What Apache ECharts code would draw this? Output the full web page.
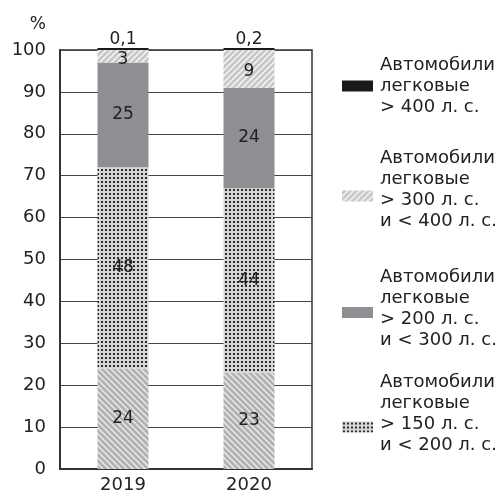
<!DOCTYPE html>
<html>
<head>
<meta charset="utf-8">
<script src="https://cdn.jsdelivr.net/npm/echarts@6/dist/echarts.min.js"></script>
<style>html,body{margin:0;padding:0;background:#fff}#c{width:499px;height:496px}</style>
</head>
<body>
<div id="c"></div>
<script>
var categories = ['2019', '2020'];
var seriesNames = [
  'Автомобили\nлегковые\n< 150 л. с.',
  'Автомобили\nлегковые\n> 150 л. с.\nи < 200 л. с.',
  'Автомобили\nлегковые\n> 200 л. с.\nи < 300 л. с.',
  'Автомобили\nлегковые\n> 300 л. с.\nи < 400 л. с.',
  'Автомобили\nлегковые\n> 400 л. с.'
];
var below150 = [24, 23];
var from150to200 = [48, 44];
var from200to300 = [25, 24];
var from300to400 = [3, 9];
var above400 = [0.1, 0.2];
var yTicks = [0, 10, 20, 30, 40, 50, 60, 70, 80, 90, 100];

var FONT = 'DejaVu Sans';

function hatch(bg, fg, dir, s, lw) {
  var c = document.createElement('canvas');
  c.width = s; c.height = s;
  var g = c.getContext('2d');
  g.fillStyle = bg; g.fillRect(0, 0, s, s);
  g.strokeStyle = fg; g.lineWidth = lw;
  g.beginPath();
  if (dir === '/') {
    g.moveTo(-1, 1); g.lineTo(1, -1);
    g.moveTo(0, s); g.lineTo(s, 0);
    g.moveTo(s - 1, s + 1); g.lineTo(s + 1, s - 1);
  } else {
    g.moveTo(-1, s - 1); g.lineTo(1, s + 1);
    g.moveTo(0, 0); g.lineTo(s, s);
    g.moveTo(s - 1, -1); g.lineTo(s + 1, 1);
  }
  g.stroke();
  return { image: c, repeat: 'repeat' };
}
function dots(bg, fg, s, d) {
  var c = document.createElement('canvas');
  c.width = s; c.height = s;
  var g = c.getContext('2d');
  g.fillStyle = bg; g.fillRect(0, 0, s, s);
  g.fillStyle = fg; g.fillRect(1, 1, d, d);
  return { image: c, repeat: 'repeat' };
}

var fills = [
  hatch('#b0b0b0', '#e4e4e4', '\\', 6, 1.6),
  dots('#d6d6d6', '#2a2a2a', 4, 2),
  '#8e8f92',
  hatch('#c6c6c6', '#f2f2f2', '/', 6, 1.6),
  '#1a1a1a'
];
var values = [below150, from150to200, from200to300, from300to400, above400];

function fmt(v) { return String(v).replace('.', ','); }

var series = values.map(function (arr, i) {
  var s = {
    name: seriesNames[i],
    type: 'bar',
    stack: 'total',
    barWidth: 51,
    data: arr,
    itemStyle: { color: fills[i] },
    label: {
      show: true,
      position: 'inside',
      color: '#222',
      fontFamily: FONT,
      fontSize: 17,
      formatter: function (p) { return fmt(p.value); }
    },
    emphasis: { disabled: true }
  };
  if (i === 3) {
    s.label.offset = [0, 3];
  }
  if (i === 4) {
    s.barMinHeight = 2;
    s.clip = false;
    s.label.position = 'top';
    s.label.distance = 0;
  }
  return s;
});

var spacers = { 4: 0, 3: 13, 2: 8, 1: 27 };
var tops = { 4: 51, 3: 144, 2: 263, 1: 368 };
var legends = [4, 3, 2, 1].map(function (i) {
  return {
    data: [seriesNames[i]],
    left: 337,
    top: tops[i],
    orient: 'vertical',
    itemWidth: 31,
    itemHeight: 11,
    icon: 'rect',
    selectedMode: false,
    itemStyle: { borderWidth: 0 },
    textStyle: {
      padding: [0, 0, 0, 2],
      rich: {
        t: { fontFamily: FONT, fontSize: 18, lineHeight: 21, color: '#222' },
        sp13: { fontSize: 1, lineHeight: 13 },
        sp8: { fontSize: 1, lineHeight: 8 },
        sp27: { fontSize: 1, lineHeight: 27 }
      }
    },
    formatter: function (name) {
      var r = '{t|' + name + '}';
      if (spacers[i]) r += '\n{sp' + spacers[i] + '| }';
      return r;
    }
  };
});

var chart = echarts.init(document.getElementById('c'), null, { renderer: 'canvas' });
chart.setOption({
  animation: false,
  backgroundColor: '#fff',
  textStyle: { fontFamily: FONT },
  grid: {
    left: 60, right: 187, top: 50, bottom: 27,
    show: true, borderColor: '#333', borderWidth: 1.5, backgroundColor: 'transparent'
  },
  legend: legends,
  xAxis: {
    type: 'category',
    data: categories,
    axisLine: { show: true, lineStyle: { color: '#333', width: 2 } },
    axisTick: { show: false },
    axisLabel: { color: '#222', fontSize: 18, fontFamily: FONT, margin: 7 }
  },
  yAxis: {
    type: 'value',
    min: yTicks[0],
    max: yTicks[yTicks.length - 1],
    interval: yTicks[1] - yTicks[0],
    name: '%',
    nameLocation: 'end',
    nameGap: 17,
    nameTextStyle: { color: '#222', fontSize: 17, fontFamily: FONT, align: 'right', padding: [0, 14, 0, 0] },
    axisLine: { show: true, lineStyle: { color: '#333', width: 2 } },
    axisTick: { show: false },
    splitLine: { show: true, lineStyle: { color: '#444', width: 1.2 } },
    axisLabel: { color: '#222', fontSize: 18, fontFamily: FONT, margin: 14 }
  },
  series: series
});
</script>
</body>
</html>
